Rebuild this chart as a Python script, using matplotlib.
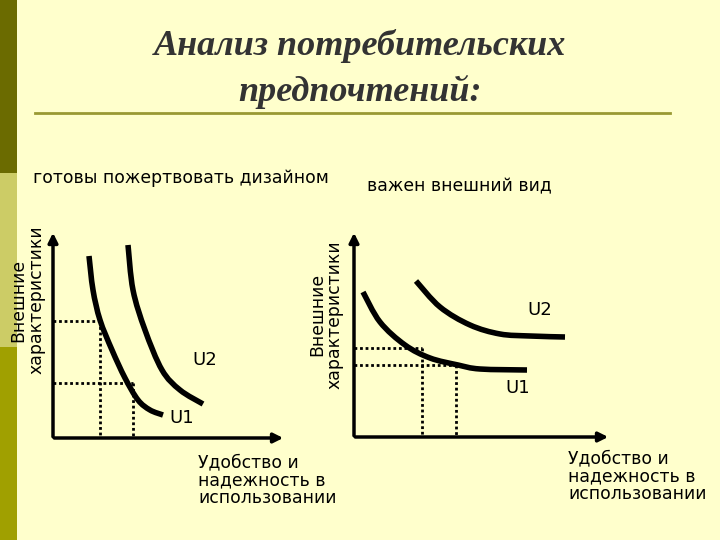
import numpy as np
import matplotlib.pyplot as plt
from matplotlib.patches import Rectangle, PathPatch
from matplotlib.path import Path

# curves, in pixel coords of the slide (y down)
left_u1_x = [89, 93, 100, 112, 125, 138, 150, 163]
left_u1_y = [256, 290, 320, 350, 378, 400, 410, 415]
left_u2_x = [128, 133, 145, 162, 180, 203]
left_u2_y = [245, 290, 330, 370, 390, 404]
right_u1_x = [363, 380, 405, 430, 458, 480, 527]
right_u1_y = [292, 322, 345, 358, 365, 369, 370]
right_u2_x = [416, 440, 470, 500, 530, 565]
right_u2_y = [281, 307, 325, 334, 336, 337]
left_guides = [(100, 321), (133, 383)]
right_guides = [(422, 348), (456, 365)]

fig = plt.figure(figsize=(7.2, 5.4), dpi=100)
fig.patch.set_facecolor('#ffffcc')
ax = fig.add_axes([0, 0, 1, 1])
ax.set_xlim(0, 720)
ax.set_ylim(540, 0)
ax.axis('off')

# left decoration bar
ax.add_patch(Rectangle((0, 0), 17, 173, color='#6b6b00', lw=0))
ax.add_patch(Rectangle((0, 173), 17, 174, color='#cccc66', lw=0))
ax.add_patch(Rectangle((0, 347), 17, 193, color='#a0a000', lw=0))
ax.plot([35, 670], [113, 113], color='#999933', lw=2)

ax.text(360, 46, 'Анализ потребительских', ha='center', va='center', fontsize=26,
        family='Liberation Serif', style='italic', weight='bold', color='#333333')
ax.text(360, 92, 'предпочтений:', ha='center', va='center', fontsize=26,
        family='Liberation Serif', style='italic', weight='bold', color='#333333')

fs = 12.4
ax.text(33, 178, 'готовы пожертвовать дизайном', fontsize=fs, va='center')
ax.text(367, 186, 'важен внешний вид', fontsize=fs, va='center')

def axes_arrows(x0, y0, ytop, xend):
    ax.annotate('', xy=(x0, ytop), xytext=(x0, y0 + 1.5),
                arrowprops=dict(arrowstyle='-|>', color='black', lw=2.5, mutation_scale=14))
    ax.annotate('', xy=(xend, y0), xytext=(x0 - 1.5, y0),
                arrowprops=dict(arrowstyle='-|>', color='black', lw=2.5, mutation_scale=14))

axes_arrows(53, 438, 230, 286)
axes_arrows(354, 437, 230, 611)

def smooth_curve(xs, ys):
    # Catmull-Rom through the read points, drawn as cubic Bezier
    p = np.column_stack([xs, ys]).astype(float)
    p = np.vstack([p[0], p, p[-1]])
    verts = [p[1]]
    codes = [Path.MOVETO]
    for i in range(1, len(p) - 2):
        c1 = p[i] + (p[i + 1] - p[i - 1]) / 6
        c2 = p[i + 1] - (p[i + 2] - p[i]) / 6
        verts += [c1, c2, p[i + 1]]
        codes += [Path.CURVE4] * 3
    ax.add_patch(PathPatch(Path(verts, codes), fill=False, lw=4, color='black',
                           capstyle='butt'))

for xs, ys in [(left_u1_x, left_u1_y), (left_u2_x, left_u2_y),
               (right_u1_x, right_u1_y), (right_u2_x, right_u2_y)]:
    smooth_curve(xs, ys)

for x0, guides, ybot in [(53, left_guides, 438), (354, right_guides, 437)]:
    for gx, gy in guides:
        ax.plot([x0, gx], [gy, gy], color='black', ls=(0, (1, 1)), lw=2)
        ax.plot([gx, gx], [gy, ybot], color='black', ls=(0, (1, 1)), lw=2)

ax.text(205, 360, 'U2', fontsize=13, ha='center', va='center')
ax.text(182, 418, 'U1', fontsize=13, ha='center', va='center')
ax.text(540, 310, 'U2', fontsize=13, ha='center', va='center')
ax.text(518, 388, 'U1', fontsize=13, ha='center', va='center')

ax.text(27, 300, 'Внешние\nхарактеристики', rotation=90, fontsize=fs,
        ha='center', va='center', linespacing=1.0)
ax.text(326, 315, 'Внешние\nхарактеристики', rotation=90, fontsize=fs,
        ha='center', va='center', linespacing=1.0)

ax.text(198, 453, 'Удобство и\nнадежность в\nиспользовании', fontsize=fs,
        va='top', linespacing=1.0)
ax.text(568, 449, 'Удобство и\nнадежность в\nиспользовании', fontsize=fs,
        va='top', linespacing=1.0)

fig.savefig('out.png', dpi=100, facecolor=fig.get_facecolor())
